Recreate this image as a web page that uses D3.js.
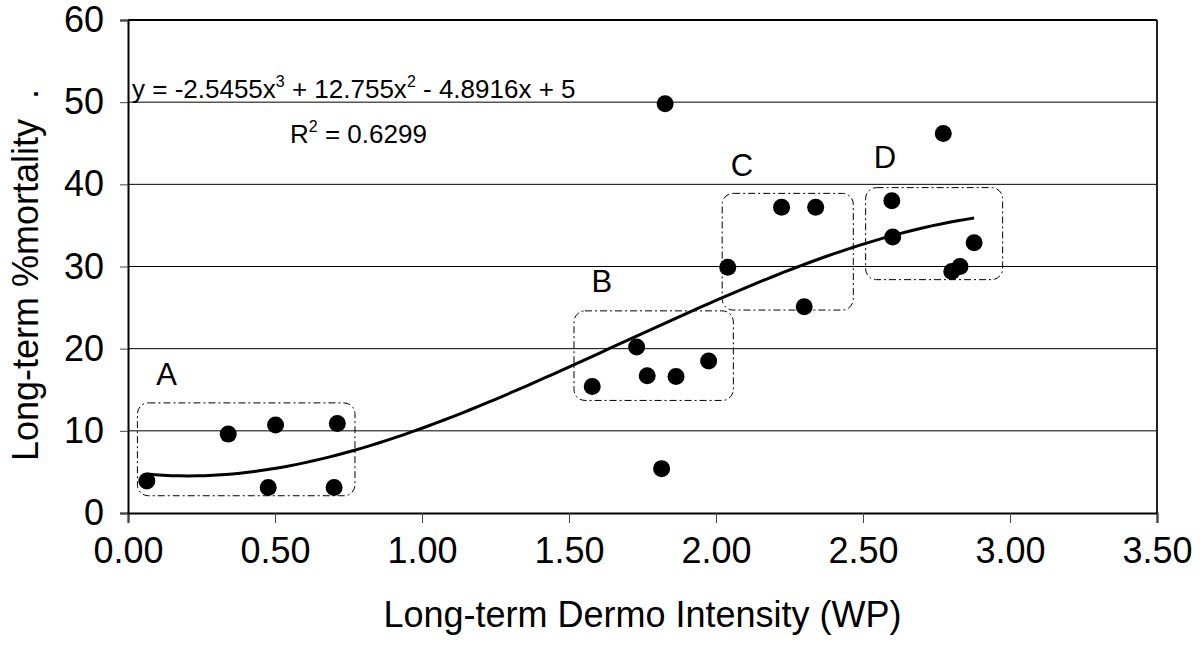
<!DOCTYPE html>
<html>
<head>
<meta charset="utf-8">
<script src="https://cdn.jsdelivr.net/npm/d3@7/dist/d3.min.js"></script>
<style>
  html, body { margin: 0; padding: 0; background: #fff; }
  svg { display: block; font-family: "Liberation Sans", Arial, sans-serif; }
</style>
</head>
<body>
<svg id="chart" width="1201" height="646"></svg>
<script>
// ---- data ----
const xValues = [0.064, 0.341, 0.477, 0.502, 0.701, 0.712,
                 1.579, 1.730, 1.766, 1.815, 1.827, 1.864, 1.975,
                 2.040, 2.223, 2.300, 2.339,
                 2.598, 2.601, 2.773, 2.802, 2.830, 2.878];
const yValues = [3.9, 9.6, 3.1, 10.7, 3.1, 10.9,
                 15.4, 20.2, 16.7, 5.4, 49.8, 16.6, 18.5,
                 29.9, 37.2, 25.1, 37.2,
                 38.0, 33.6, 46.2, 29.4, 30.0, 32.9];
// trendline coefficients (cubic, highest power first) as printed on the chart
const trendCoefs = [-2.5455, 12.755, -4.8916, 5];
const xTicks = [0, 0.5, 1, 1.5, 2, 2.5, 3, 3.5];
const yTicks = [0, 10, 20, 30, 40, 50, 60];
// group boxes: label, x0, x1, yLow, yHigh (data units)
const groupLabels = ["A", "B", "C", "D"];
const groupX0 = [0.032, 1.517, 2.021, 2.509];
const groupX1 = [0.772, 2.059, 2.467, 2.975];
const groupY0 = [2.1, 13.7, 24.7, 28.4];
const groupY1 = [13.4, 24.6, 38.9, 39.6];
// label anchor positions (data units)
const labelX = [0.131, 1.612, 2.088, 2.575];
const labelY = [15.6, 26.9, 41.0, 42.0];

// ---- layout ----
const svg = d3.select("#chart");
const W = 1201, H = 646;
const m = {left: 128, right: 44, top: 20, bottom: 133};
const x = d3.scaleLinear().domain([0, 3.5]).range([m.left, W - m.right]);
const y = d3.scaleLinear().domain([0, 60]).range([H - m.bottom, m.top]);
const FONT = 36;

// gridlines
svg.append("g").selectAll("line").data(yTicks.filter(d => d > 0)).join("line")
  .attr("x1", x(0)).attr("x2", x(3.5))
  .attr("y1", d => y(d)).attr("y2", d => y(d))
  .attr("stroke", "#000").attr("stroke-width", 1);

// plot border top/right
svg.append("line").attr("x1", x(0)).attr("x2", x(3.5)).attr("y1", y(60)).attr("y2", y(60))
  .attr("stroke", "#000").attr("stroke-width", 2);
svg.append("line").attr("x1", x(3.5)).attr("x2", x(3.5)).attr("y1", y(60)).attr("y2", y(0))
  .attr("stroke", "#222").attr("stroke-width", 2);

// axes
const xAxis = d3.axisBottom(x).tickValues(xTicks).tickSize(10).tickPadding(14)
  .tickFormat(d3.format(".2f"));
const gx = svg.append("g").attr("transform", `translate(0,${y(0)})`).call(xAxis);
gx.select(".domain").attr("stroke", "#000").attr("stroke-width", 2);
gx.selectAll(".tick line").attr("stroke", "#444").attr("stroke-width", 1);
gx.selectAll(".tick text").attr("font-size", FONT).attr("fill", "#000")
  .attr("font-family", "Liberation Sans, Arial, sans-serif").attr("dy", "0.71em");

const yAxis = d3.axisLeft(y).tickValues(yTicks).tickSize(8).tickPadding(16)
  .tickFormat(d3.format("d"));
const gy = svg.append("g").attr("transform", `translate(${x(0)},0)`).call(yAxis);
gy.select(".domain").attr("stroke", "#000").attr("stroke-width", 2);
gy.selectAll(".tick line").attr("stroke", "#444").attr("stroke-width", 1);
gy.selectAll(".tick text").attr("font-size", FONT).attr("fill", "#000")
  .attr("font-family", "Liberation Sans, Arial, sans-serif");

// group boxes
const groups = groupLabels.map((g, i) => ({g, x0: groupX0[i], x1: groupX1[i], y0: groupY0[i], y1: groupY1[i], lx: labelX[i], ly: labelY[i]}));
svg.append("g").selectAll("rect").data(groups).join("rect")
  .attr("x", d => x(d.x0)).attr("y", d => y(d.y1))
  .attr("width", d => x(d.x1) - x(d.x0)).attr("height", d => y(d.y0) - y(d.y1))
  .attr("rx", 11).attr("ry", 11)
  .attr("fill", "none").attr("stroke", "#000").attr("stroke-width", 1)
  .attr("stroke-dasharray", "7,3,2,3");
svg.append("g").selectAll("text").data(groups).join("text")
  .attr("x", d => x(d.lx)).attr("y", d => y(d.ly))
  .attr("text-anchor", "middle").attr("font-size", 31).text(d => d.g);

// trendline
const poly = t => trendCoefs.reduce((acc, c) => acc * t + c, 0);
const xmin = d3.min(xValues), xmax = d3.max(xValues);
const trendPts = d3.range(0, 101).map(i => {
  const t = xmin + (xmax - xmin) * i / 100;
  return [t, poly(t)];
});
svg.append("path").datum(trendPts)
  .attr("d", d3.line().x(d => x(d[0])).y(d => y(d[1])).curve(d3.curveLinear))
  .attr("fill", "none").attr("stroke", "#000").attr("stroke-width", 3);

// points
svg.append("g").selectAll("circle").data(xValues.map((v, i) => [v, yValues[i]])).join("circle")
  .attr("cx", d => x(d[0])).attr("cy", d => y(d[1])).attr("r", 8.5).attr("fill", "#000");

// equation
const eq = svg.append("text").attr("x", 132).attr("y", 98).attr("font-size", 26);
eq.append("tspan").text("y = -2.5455x");
eq.append("tspan").attr("font-size", 16).attr("dy", -11).text("3");
eq.append("tspan").attr("dy", 11).text(" + 12.755x");
eq.append("tspan").attr("font-size", 16).attr("dy", -11).text("2");
eq.append("tspan").attr("dy", 11).text(" - 4.8916x + 5");
const r2 = svg.append("text").attr("x", 290).attr("y", 143).attr("font-size", 26);
r2.append("tspan").text("R");
r2.append("tspan").attr("font-size", 16).attr("dy", -11).text("2");
r2.append("tspan").attr("dy", 11).text(" = 0.6299");

// axis titles
svg.append("text").attr("x", x(1.75)).attr("y", 627).attr("text-anchor", "middle")
  .attr("font-size", FONT).text("Long-term Dermo Intensity (WP)");
svg.append("text").attr("transform", "translate(38,461) rotate(-90)")
  .attr("font-size", FONT).style("white-space", "pre")
  .text("Long-term %mortality  .");
</script>
</body>
</html>
